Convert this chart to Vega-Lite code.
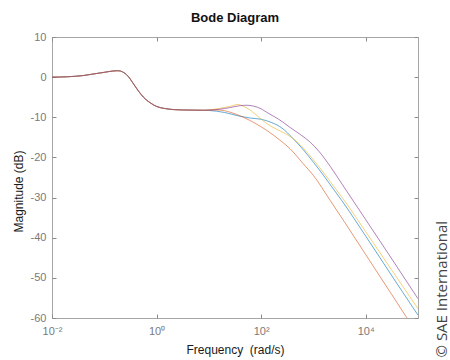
{
  "$schema": "https://vega.github.io/schema/vega-lite/v6.json",
  "width": 366,
  "height": 281,
  "autosize": {"type": "none"},
  "padding": {"left": 52, "top": 37, "right": 32, "bottom": 42},
  "background": "white",
  "title": {
    "text": "Bode Diagram",
    "font": "Liberation Sans",
    "fontSize": 13,
    "fontWeight": "bold",
    "color": "#111111",
    "offset": 6
  },
  "config": {
    "font": "Liberation Sans",
    "view": {"stroke": "#a6a6a6", "strokeWidth": 1},
    "axis": {
      "domain": false,
      "grid": false,
      "tickColor": "#8c8c8c",
      "tickSize": -4,
      "labelColor": "#7a7a7a",
      "labelFont": "Liberation Sans",
      "labelFontSize": 11,
      "labelFlush": false,
      "labelOverlap": false,
      "titleFont": "Liberation Sans",
      "titleFontSize": 12,
      "titleFontWeight": "normal",
      "titleColor": "#1a1a1a"
    }
  },
  "data": {
    "values": [
      {"s": "1", "w": 0.01, "db": 0}, {"s": "1", "w": 0.01995, "db": 0.1}, {"s": "1", "w": 0.03981, "db": 0.4},
      {"s": "1", "w": 0.0631, "db": 0.8}, {"s": "1", "w": 0.1, "db": 1.2}, {"s": "1", "w": 0.1413, "db": 1.5},
      {"s": "1", "w": 0.1862, "db": 1.6}, {"s": "1", "w": 0.2239, "db": 1.3}, {"s": "1", "w": 0.2818, "db": 0.3},
      {"s": "1", "w": 0.3548, "db": -1.5}, {"s": "1", "w": 0.4467, "db": -3.4}, {"s": "1", "w": 0.5623, "db": -5.0},
      {"s": "1", "w": 0.7586, "db": -6.4}, {"s": "1", "w": 1, "db": -7.3}, {"s": "1", "w": 1.413, "db": -7.8},
      {"s": "1", "w": 2.239, "db": -8.1}, {"s": "1", "w": 3.981, "db": -8.2}, {"s": "1", "w": 7.943, "db": -8.25},
      {"s": "1", "w": 10, "db": -8.3}, {"s": "1", "w": 19.95, "db": -8.8}, {"s": "1", "w": 35.48, "db": -9.6},
      {"s": "1", "w": 63.1, "db": -10.2}, {"s": "1", "w": 100, "db": -10.5}, {"s": "1", "w": 158.5, "db": -11.3},
      {"s": "1", "w": 251.2, "db": -12.7}, {"s": "1", "w": 407.4, "db": -15.3}, {"s": "1", "w": 631, "db": -18.0},
      {"s": "1", "w": 1000, "db": -21.2}, {"s": "1", "w": 1585, "db": -24.6}, {"s": "1", "w": 2512, "db": -28.2},
      {"s": "1", "w": 3467, "db": -30.7}, {"s": "1", "w": 10000, "db": -39.6}, {"s": "1", "w": 31623, "db": -49.5},
      {"s": "1", "w": 100000, "db": -59.3},

      {"s": "2", "w": 0.01, "db": 0}, {"s": "2", "w": 0.01995, "db": 0.1}, {"s": "2", "w": 0.03981, "db": 0.4},
      {"s": "2", "w": 0.0631, "db": 0.8}, {"s": "2", "w": 0.1, "db": 1.2}, {"s": "2", "w": 0.1413, "db": 1.5},
      {"s": "2", "w": 0.1862, "db": 1.6}, {"s": "2", "w": 0.2239, "db": 1.3}, {"s": "2", "w": 0.2818, "db": 0.3},
      {"s": "2", "w": 0.3548, "db": -1.5}, {"s": "2", "w": 0.4467, "db": -3.4}, {"s": "2", "w": 0.5623, "db": -5.0},
      {"s": "2", "w": 0.7586, "db": -6.4}, {"s": "2", "w": 1, "db": -7.3}, {"s": "2", "w": 1.413, "db": -7.8},
      {"s": "2", "w": 2.239, "db": -8.1}, {"s": "2", "w": 3.981, "db": -8.2}, {"s": "2", "w": 7.943, "db": -8.25},
      {"s": "2", "w": 10, "db": -8.2}, {"s": "2", "w": 15.85, "db": -8.2}, {"s": "2", "w": 25.12, "db": -8.7},
      {"s": "2", "w": 45.71, "db": -10.0}, {"s": "2", "w": 79.43, "db": -11.6}, {"s": "2", "w": 125.9, "db": -13.2},
      {"s": "2", "w": 223.9, "db": -15.6}, {"s": "2", "w": 354.8, "db": -17.8}, {"s": "2", "w": 631, "db": -21.5},
      {"s": "2", "w": 1000, "db": -24.5}, {"s": "2", "w": 2089, "db": -30.7}, {"s": "2", "w": 3981, "db": -36.2},
      {"s": "2", "w": 10000, "db": -44.2}, {"s": "2", "w": 31623, "db": -54.2}, {"s": "2", "w": 63096, "db": -60.2},

      {"s": "3", "w": 0.01, "db": 0}, {"s": "3", "w": 0.01995, "db": 0.1}, {"s": "3", "w": 0.03981, "db": 0.4},
      {"s": "3", "w": 0.0631, "db": 0.8}, {"s": "3", "w": 0.1, "db": 1.2}, {"s": "3", "w": 0.1413, "db": 1.5},
      {"s": "3", "w": 0.1862, "db": 1.6}, {"s": "3", "w": 0.2239, "db": 1.3}, {"s": "3", "w": 0.2818, "db": 0.3},
      {"s": "3", "w": 0.3548, "db": -1.5}, {"s": "3", "w": 0.4467, "db": -3.4}, {"s": "3", "w": 0.5623, "db": -5.0},
      {"s": "3", "w": 0.7586, "db": -6.4}, {"s": "3", "w": 1, "db": -7.3}, {"s": "3", "w": 1.413, "db": -7.8},
      {"s": "3", "w": 2.239, "db": -8.1}, {"s": "3", "w": 3.981, "db": -8.2}, {"s": "3", "w": 7.943, "db": -8.25},
      {"s": "3", "w": 10, "db": -8.15}, {"s": "3", "w": 15.85, "db": -7.8}, {"s": "3", "w": 25.12, "db": -7.3},
      {"s": "3", "w": 36.31, "db": -6.8}, {"s": "3", "w": 44.67, "db": -7.2}, {"s": "3", "w": 61.66, "db": -8.2},
      {"s": "3", "w": 89.13, "db": -9.9}, {"s": "3", "w": 125.9, "db": -11.5}, {"s": "3", "w": 199.5, "db": -13.0},
      {"s": "3", "w": 281.8, "db": -14.0}, {"s": "3", "w": 407.4, "db": -15.3}, {"s": "3", "w": 631, "db": -17.6},
      {"s": "3", "w": 1000, "db": -20.6}, {"s": "3", "w": 1585, "db": -23.9}, {"s": "3", "w": 2512, "db": -27.4},
      {"s": "3", "w": 3981, "db": -30.9}, {"s": "3", "w": 10000, "db": -38.5}, {"s": "3", "w": 31623, "db": -48.1},
      {"s": "3", "w": 100000, "db": -57.7},

      {"s": "4", "w": 0.01, "db": 0}, {"s": "4", "w": 0.01995, "db": 0.1}, {"s": "4", "w": 0.03981, "db": 0.4},
      {"s": "4", "w": 0.0631, "db": 0.8}, {"s": "4", "w": 0.1, "db": 1.2}, {"s": "4", "w": 0.1413, "db": 1.5},
      {"s": "4", "w": 0.1862, "db": 1.6}, {"s": "4", "w": 0.2239, "db": 1.3}, {"s": "4", "w": 0.2818, "db": 0.3},
      {"s": "4", "w": 0.3548, "db": -1.5}, {"s": "4", "w": 0.4467, "db": -3.4}, {"s": "4", "w": 0.5623, "db": -5.0},
      {"s": "4", "w": 0.7586, "db": -6.4}, {"s": "4", "w": 1, "db": -7.3}, {"s": "4", "w": 1.413, "db": -7.8},
      {"s": "4", "w": 2.239, "db": -8.1}, {"s": "4", "w": 3.981, "db": -8.2}, {"s": "4", "w": 7.943, "db": -8.25},
      {"s": "4", "w": 10, "db": -8.2}, {"s": "4", "w": 15.85, "db": -8.0}, {"s": "4", "w": 25.12, "db": -7.6},
      {"s": "4", "w": 39.81, "db": -7.1}, {"s": "4", "w": 52.48, "db": -7.0}, {"s": "4", "w": 70.79, "db": -7.2},
      {"s": "4", "w": 100, "db": -7.9}, {"s": "4", "w": 125.9, "db": -8.7}, {"s": "4", "w": 166, "db": -9.6},
      {"s": "4", "w": 229.1, "db": -10.7}, {"s": "4", "w": 354.8, "db": -12.5}, {"s": "4", "w": 562.3, "db": -14.3},
      {"s": "4", "w": 851.1, "db": -16.1}, {"s": "4", "w": 1259, "db": -18.4}, {"s": "4", "w": 2089, "db": -22.2},
      {"s": "4", "w": 3548, "db": -26.7}, {"s": "4", "w": 5754, "db": -30.8}, {"s": "4", "w": 10000, "db": -35.5},
      {"s": "4", "w": 31623, "db": -45.3}, {"s": "4", "w": 100000, "db": -55.2}
    ]
  },
  "layer": [
    {
      "mark": {"type": "line", "strokeWidth": 1, "opacity": 0.6, "clip": true, "interpolate": "monotone"},
      "encoding": {
        "x": {
          "field": "w",
          "type": "quantitative",
          "scale": {"type": "log", "domain": [0.01, 100000]},
          "axis": {
            "orient": "bottom",
            "values": [0.01, 1, 100, 10000],
            "labelExpr": "datum.value == 0.01 ? '10⁻²' : datum.value == 1 ? '10⁰' : datum.value == 100 ? '10²' : '10⁴'",
            "labelPadding": 11,
            "title": "Frequency\u00a0 (rad/s)",
            "titleY": 35,
            "titleBaseline": "alphabetic"
          }
        },
        "y": {
          "field": "db",
          "type": "quantitative",
          "scale": {"domain": [-60, 10]},
          "axis": {
            "orient": "left",
            "values": [-60, -50, -40, -30, -20, -10, 0, 10],
            "labelExpr": "'' + datum.value",
            "labelPadding": 10,
            "title": "Magnitude (dB)",
            "titleAngle": 270,
            "titleX": -30,
            "titleY": 154,
            "titleAlign": "center",
            "titleBaseline": "alphabetic"
          }
        },
        "color": {
          "field": "s",
          "type": "nominal",
          "scale": {"domain": ["1", "2", "3", "4"], "range": ["#0072bd", "#d95319", "#edb120", "#7e2f8e"]},
          "legend": null
        }
      }
    },
    {
      "mark": {"type": "point", "opacity": 0},
      "encoding": {
        "x": {
          "field": "w",
          "type": "quantitative",
          "axis": {"orient": "top", "values": [0.01, 1, 100, 10000], "labels": false, "title": null}
        },
        "y": {
          "field": "db",
          "type": "quantitative",
          "axis": {
            "orient": "right",
            "values": [-60, -50, -40, -30, -20, -10, 0, 10],
            "labels": false,
            "title": "© SAE International",
            "titleFont": "Open Sans",
            "titleFontSize": 15,
            "titleColor": "#444444",
            "titleAngle": 270,
            "titleAlign": "left",
            "titleBaseline": "alphabetic",
            "titleX": 28,
            "titleY": 320
          }
        }
      }
    }
  ],
  "resolve": {"axis": {"x": "independent", "y": "independent"}}
}
